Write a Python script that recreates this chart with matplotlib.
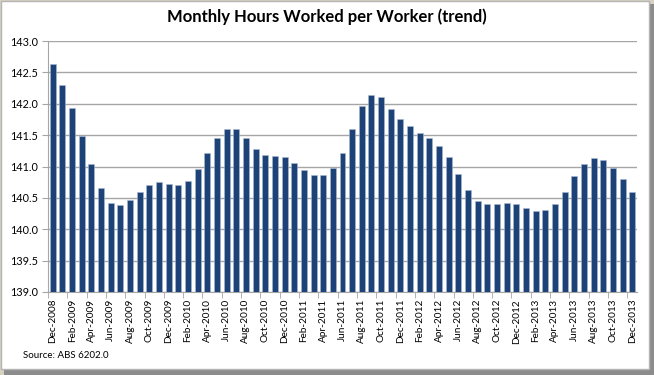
import matplotlib
matplotlib.use("Agg")
import matplotlib.pyplot as plt
from matplotlib.patches import Rectangle
import numpy as np

months = ["Dec", "Jan", "Feb", "Mar", "Apr", "May", "Jun",
          "Jul", "Aug", "Sep", "Oct", "Nov"]
start_year = 2008

hours = [142.63, 142.30, 141.93, 141.48, 141.04, 140.66, 140.42, 140.38,
         140.46, 140.59, 140.71, 140.75, 140.72, 140.71, 140.77, 140.96,
         141.21, 141.45, 141.60, 141.59, 141.45, 141.28, 141.19, 141.17,
         141.15, 141.05, 140.94, 140.87, 140.87, 140.98, 141.22, 141.59,
         141.96, 142.14, 142.10, 141.92, 141.76, 141.64, 141.54, 141.45,
         141.33, 141.15, 140.88, 140.62, 140.45, 140.41, 140.41, 140.42,
         140.40, 140.34, 140.29, 140.30, 140.41, 140.59, 140.85, 141.04,
         141.13, 141.10, 140.97, 140.80, 140.59]

# labels Dec-2008 ... Dec-2013
labels = []
for i in range(len(hours)):
    m = months[i % 12]
    y = start_year + (i + 11) // 12
    labels.append(f"{m}-{y}")

plt.rcParams['font.family'] = ['Lato', 'DejaVu Sans']

fig = plt.figure(figsize=(6.54, 3.75), dpi=100)
fig.patch.set_facecolor('#d8d2c0')

# card with border and shadow
fig.patches.append(Rectangle((4 / 654, 0), 650 / 654, 371 / 375,
                             transform=fig.transFigure, facecolor='#8c8c8c',
                             edgecolor='none', zorder=-2))
fig.patches.append(Rectangle((0.5 / 654, 6 / 375), 648 / 654, 368.5 / 375,
                             transform=fig.transFigure, facecolor='white',
                             edgecolor='#b4b4b4', linewidth=1, zorder=-1))

ax = fig.add_axes([48 / 654, 1 - 292 / 375, 589 / 654, 251 / 375])
ax.set_facecolor('none')

x = np.arange(len(hours))
ax.bar(x, np.array(hours) - 139.0, bottom=139.0, width=0.62,
       color='#1d4278', edgecolor='#a9b9d0', linewidth=0.4, zorder=3)

ax.set_ylim(139.0, 143.0)
ax.set_xlim(-0.5, len(hours) - 0.5)
ax.set_yticks(np.arange(139.0, 143.01, 0.5))
ax.set_yticklabels([f"{v:.1f}" for v in np.arange(139.0, 143.01, 0.5)],
                   fontsize=7.8)
ax.yaxis.grid(True, color='#a6a6a6', linewidth=1, zorder=0)
ax.set_axisbelow(True)
ax.tick_params(axis='y', length=4, color='#a6a6a6', pad=3)

ax.set_xticks(x[::2])
ax.set_xticklabels(labels[::2], rotation=90, fontsize=7.2)
ax.set_xticks(np.arange(-0.5, len(hours), 2), minor=True)
ax.tick_params(axis='x', which='major', length=0, pad=5)
ax.tick_params(axis='x', which='minor', length=4, color='#a6a6a6')

for side in ['top', 'right']:
    ax.spines[side].set_visible(False)
ax.spines['left'].set_color('#a6a6a6')
ax.spines['bottom'].set_color('#a6a6a6')

fig.text(0.5, 1 - 17 / 375, "Monthly Hours Worked per Worker (trend)",
         ha='center', va='center', fontsize=12, fontweight='bold')
fig.text(23 / 654, 1 - 355 / 375, "Source: ABS 6202.0",
         ha='left', va='center', fontsize=7)

fig.savefig("out.png", dpi=100, facecolor=fig.get_facecolor())
